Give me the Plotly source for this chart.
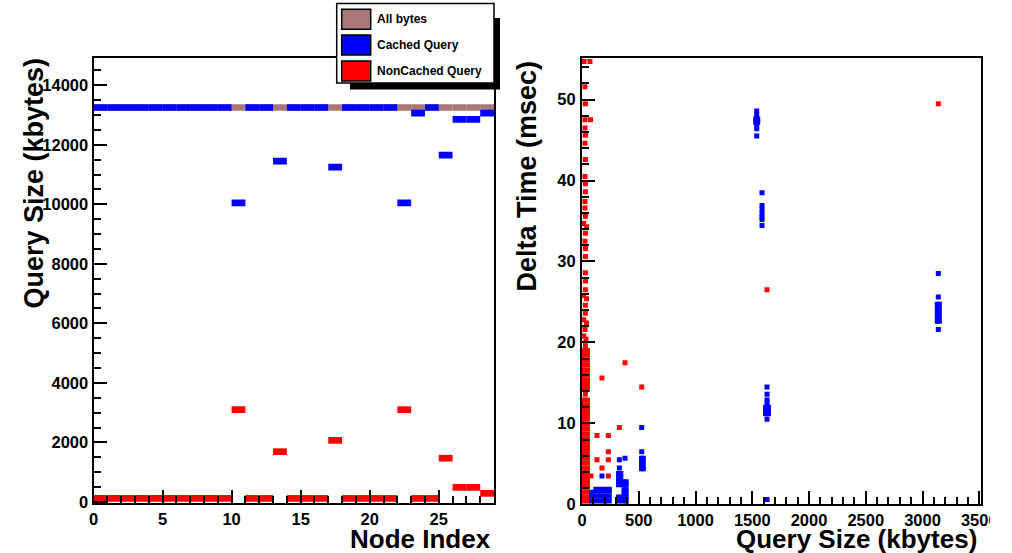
import plotly.graph_objects as go

W, H = 1012, 553

# ---------------- left panel: query size per node ----------------
node_index = [0, 1, 2, 3, 4, 5, 6, 7, 8, 9, 10, 11, 12, 13, 14, 15, 16, 17, 18, 19,
              20, 21, 22, 23, 24, 25, 26, 27, 28]
all_bytes = [13250, 13250, 13250, 13250, 13250, 13250, 13250, 13250, 13250, 13250,
             13250, 13250, 13250, 13250, 13250, 13250, 13250, 13250, 13250, 13250,
             13250, 13250, 13250, 13250, 13250, 13250, 13250, 13250, 13250]
cached_query = [13250, 13250, 13250, 13250, 13250, 13250, 13250, 13250, 13250, 13250,
                10050, 13250, 13250, 11450, 13250, 13250, 13250, 11250, 13250, 13250,
                13250, 13250, 10050, 13060, 13250, 11650, 12850, 12850, 13060]
noncached_query = [120, 120, 120, 120, 120, 120, 120, 120, 120, 120,
                   3100, 120, 120, 1690, 120, 120, 120, 2070, 120, 120,
                   120, 120, 3100, 120, 120, 1470, 490, 490, 290]

# ---------------- right panel: delta time vs query size ----------------
noncached_size = [18, 70, 26, 30, 26, 75, 26, 30, 26, 30, 26, 30, 30, 26, 26, 30, 15, 40,
                  30, 26, 30, 30, 30, 30, 30, 15, 40, 30, 30, 15, 40, 26, 15, 35, 30,
                  13, 48, 13, 48, 13, 48, 13, 48, 13, 48, 13, 48, 13, 48, 13, 48, 13, 48,
                  30,
                  13, 48, 13, 48, 13, 48, 13, 48, 13, 48, 13, 48, 13, 48, 13, 48, 13, 48,
                  13, 48, 13, 48, 13, 48, 13, 48, 13, 48, 13, 48, 13, 48, 13, 48, 13, 48,
                  13, 48, 13, 48, 13, 48, 13, 48,
                  79, 232, 176, 132, 232, 232, 132, 232, 329, 526, 176, 379, 1630, 3139]
noncached_dt = [54.7, 54.7, 51.6, 49.5, 47.5, 47.5, 46.5, 45.6, 44.6, 42.6, 40.5, 39.6, 38.6,
                37.4, 36.6, 35.6, 34.7, 34.3, 33.5, 32.5, 31.6, 30.6, 28.6, 27.6, 26.5,
                25.8, 25.4, 24.6, 23.6, 22.8, 22.4, 21.6, 20.8, 20.4, 19.6,
                19.0, 19.0, 18.4, 18.4, 17.8, 17.8, 17.2, 17.2, 16.6, 16.6, 16.0, 16.0,
                15.4, 15.4, 14.8, 14.8, 14.2, 14.2,
                13.6,
                12.9, 12.9, 12.3, 12.3, 11.7, 11.7, 11.1, 11.1, 10.5, 10.5, 9.9, 9.9,
                9.3, 9.3, 8.7, 8.7, 8.1, 8.1, 7.5, 7.5, 6.9, 6.9, 6.3, 6.3, 5.7, 5.7,
                5.1, 5.1, 4.5, 4.5, 3.9, 3.9, 3.3, 3.3, 2.7, 2.7, 2.1, 2.1, 1.5, 1.5,
                0.9, 0.9, 0.4, 0.4,
                3.5, 3.5, 4.5, 5.5, 5.5, 6.5, 8.5, 8.5, 9.5, 14.5, 15.6, 17.5, 26.5, 49.5]

cached_size = [84, 123, 163, 203, 240, 84, 123, 163, 203, 240, 84, 123, 163, 203, 240,
               123, 163, 203, 240,
               322, 342, 322, 342, 322, 361, 389, 322, 361, 389, 370, 389, 370, 389,
               322, 361, 389, 322, 361, 389,
               176, 329, 329, 379,
               526, 526, 524, 540, 524, 540, 524, 540, 524, 540,
               1539, 1539, 1530, 1548, 1530, 1548, 1539, 1539, 1539,
               1586, 1586, 1586, 1586, 1586, 1586, 1586,
               1630, 1630, 1630, 1630, 1617, 1643, 1617, 1643, 1617, 1643, 1630, 1630,
               3139, 3139, 3130, 3148, 3130, 3148, 3130, 3148, 3130, 3148, 3130, 3148, 3139]
cached_dt = [0.4, 0.4, 0.4, 0.4, 0.4, 1.0, 1.0, 1.0, 1.0, 1.0, 1.5, 1.6, 1.6, 1.6, 1.6,
             1.86, 1.86, 1.86, 1.86,
             3.8, 3.8, 3.3, 3.3, 2.8, 2.8, 2.8, 2.4, 2.4, 2.4, 1.8, 1.8, 1.4, 1.4,
             0.9, 0.9, 0.9, 0.4, 0.4, 0.4,
             3.5, 4.5, 5.5, 5.7,
             9.5, 6.5, 5.7, 5.7, 5.2, 5.2, 4.7, 4.7, 4.4, 4.4,
             48.6, 48.1, 47.6, 47.6, 47.2, 47.2, 46.7, 46.4, 45.5,
             38.5, 36.9, 36.4, 35.9, 35.5, 35.2, 34.45,
             14.5, 13.6, 12.9, 12.5, 12.0, 12.0, 11.5, 11.5, 11.2, 11.2, 10.5, 0.6,
             28.5, 25.6, 24.7, 24.7, 24.2, 24.2, 23.7, 23.7, 23.2, 23.2, 22.6, 22.6, 21.6]

legend_labels = ["All bytes", "Cached Query", "NonCached Query"]

BROWN = "#a87878"
BLUE = "#0000ff"
RED = "#ff0000"
FONT = "Liberation Sans"
BAND = 225  # drawn thickness of each node segment (kbytes)


def px_x(p):
    return p / W


def px_y(p):
    return 1 - p / H


fig = go.Figure()

centers = [n + 0.5 for n in node_index]
for values, color in ((all_bytes, BROWN), (cached_query, BLUE), (noncached_query, RED)):
    fig.add_trace(go.Bar(
        x=centers, y=[BAND] * len(values), base=[v - BAND / 2 for v in values],
        width=1, marker=dict(color=color, line=dict(width=0)),
        xaxis="x", yaxis="y", showlegend=False, hoverinfo="skip"))

fig.add_trace(go.Scatter(
    x=noncached_size, y=noncached_dt, mode="markers",
    marker=dict(symbol="square", size=5, color=RED, line=dict(width=0)),
    xaxis="x2", yaxis="y2", showlegend=False))
fig.add_trace(go.Scatter(
    x=cached_size, y=cached_dt, mode="markers",
    marker=dict(symbol="square", size=5, color=BLUE, line=dict(width=0)),
    xaxis="x2", yaxis="y2", showlegend=False))

tickfont = dict(family=FONT, size=16.5, color="black", weight="bold")


def axis(**kw):
    base = dict(showline=True, linecolor="black", linewidth=2, mirror=True,
                ticks="inside", tickcolor="black", tickwidth=2, ticklen=13,
                showgrid=False, zeroline=False, tickfont=tickfont, tickformat="d",
                automargin=False)
    base.update(kw)
    return base


def minor(step):
    return dict(dtick=step, ticks="inside", ticklen=7, tickcolor="black", tickwidth=2)


fig.update_layout(
    width=W, height=H, margin=dict(l=0, r=0, t=0, b=0, autoexpand=False),
    paper_bgcolor="white", plot_bgcolor="white", barmode="overlay",
    xaxis=axis(domain=[px_x(93.5), px_x(494)], range=[0, 29], tick0=0, dtick=5,
               minor=minor(1), anchor="y", ticklabelstandoff=0),
    yaxis=axis(domain=[px_y(503), px_y(57.5)], range=[-34, 14930], tick0=0, dtick=2000,
               minor=minor(500), anchor="x", ticklabelstandoff=0),
    xaxis2=axis(domain=[px_x(582), px_x(981)], range=[0, 3515], tick0=0, dtick=500,
                minor=minor(100), anchor="y2", ticklabelstandoff=0),
    yaxis2=axis(domain=[px_y(504.3), px_y(57.5)], range=[0, 55.2], tick0=0, dtick=10,
                minor=minor(2), anchor="x2", ticklabelstandoff=1),
)

title_font = dict(family=FONT, size=26, color="black", weight="bold")
annotations = [
    dict(text="Node Index", x=px_x(492), y=px_y(538.5), xanchor="right", yanchor="middle"),
    dict(text="Query Size (kbytes)", x=px_x(978), y=px_y(538.5), xanchor="right",
         yanchor="middle"),
    dict(text="Query Size (kbytes)", x=px_x(33), y=px_y(57), xanchor="center", yanchor="top",
         textangle=-90, font=dict(family=FONT, size=27, color="black", weight="bold")),
    dict(text="Delta Time (msec)", x=px_x(526), y=px_y(60), xanchor="center", yanchor="top",
         textangle=-90, font=dict(family=FONT, size=27, color="black", weight="bold")),
]
for a in annotations:
    a.update(xref="paper", yref="paper", showarrow=False, borderpad=0)
    a.setdefault("font", title_font)

# legend box with drop shadow
shapes = [
    dict(type="rect", x0=px_x(350), x1=px_x(500), y0=px_y(18), y1=px_y(89.5),
         fillcolor="black", line=dict(width=0)),
    dict(type="rect", x0=px_x(336.7), x1=px_x(494), y0=px_y(3.5), y1=px_y(83),
         fillcolor="white", line=dict(color="black", width=1.5)),
    # right-hand canvas edge trims the last x tick label
    dict(type="rect", x0=px_x(990), x1=1, y0=px_y(535), y1=px_y(506),
         fillcolor="white", line=dict(width=0)),
]
swatch_rows = [(9.3, 29.3), (35, 55), (61, 81)]
for (top, bottom), color, label in zip(swatch_rows, (BROWN, BLUE, RED), legend_labels):
    shapes.append(dict(type="rect", x0=px_x(341.7), x1=px_x(370.7), y0=px_y(bottom), y1=px_y(top),
                       fillcolor=color, line=dict(color="black", width=1.5)))
    annotations.append(dict(text=label, x=px_x(375), y=px_y((top + bottom) / 2),
                            xanchor="left", yanchor="middle", xref="paper", yref="paper",
                            showarrow=False,
                            font=dict(family=FONT, size=12, color="black", weight="bold")))
for s in shapes:
    s.update(xref="paper", yref="paper", layer="above")

fig.update_layout(annotations=annotations, shapes=shapes)

fig.write_html("out.html")
